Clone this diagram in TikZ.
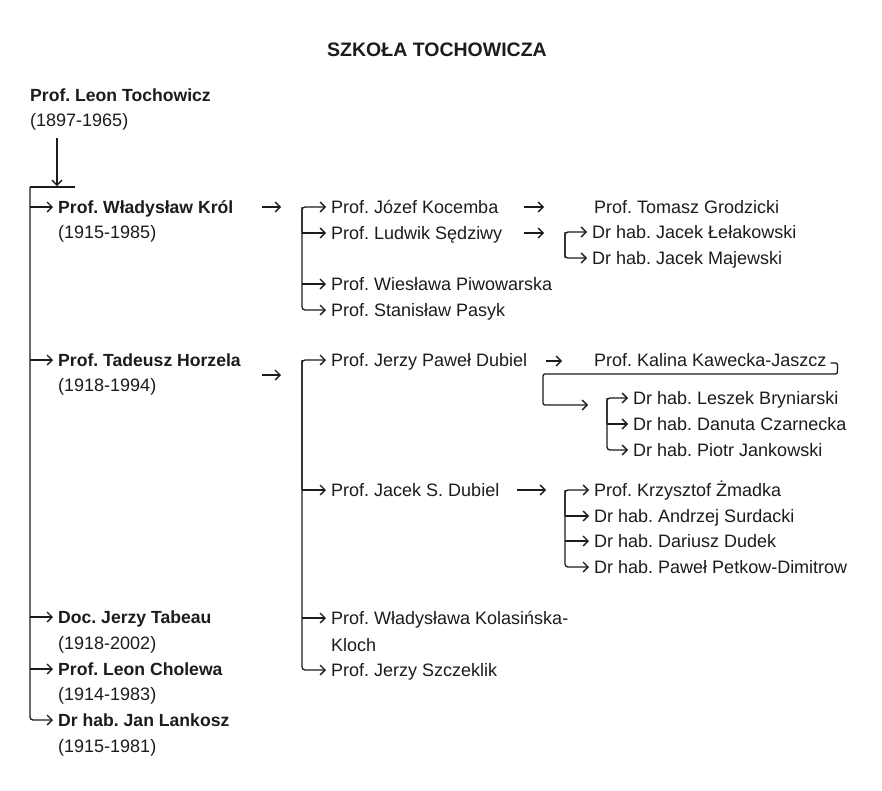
\documentclass[tikz,border=0pt]{standalone}
\usepackage{fontspec}
\setmainfont{Liberation Sans}
\usetikzlibrary{arrows.meta}
\definecolor{ink}{HTML}{1C1C1C}
\frenchspacing
\begin{document}
\begin{tikzpicture}[x=1pt,y=-1pt,
  txt/.style={anchor=west, inner sep=0pt, text height=12.5pt, text depth=0pt,
    font=\fontsize{18}{20}\selectfont, text=ink},
  bold/.style={txt, font=\fontsize{17.6}{20}\selectfont\bfseries},
  ln/.style={draw=ink, line width=1.3pt},
  tip/.style={-{Straight Barb[length=5pt,width=10pt]}},
  arr/.style={ln, tip, shorten >=5pt, rounded corners=3pt},
  free/.style={ln, tip}]
\fill[white] (0,0) rectangle (882,790);
\useasboundingbox (0,0) rectangle (882,790);

% title
\node[bold, anchor=center, font=\fontsize{19.5}{22}\selectfont\bfseries] (title) at (437,50) {SZKOŁA TOCHOWICZA};

% root
\node[bold] (toch) at (30,95) {Prof. Leon Tochowicz};
\node[txt] (tochy) at (30,120) {(1897-1965)};

% level 1
\node[bold] (krol) at (58,207) {Prof. Władysław Król};
\node[txt] (kroly) at (58,232) {(1915-1985)};
\node[bold] (horz) at (58,360) {Prof. Tadeusz Horzela};
\node[txt] (horzy) at (58,385) {(1918-1994)};
\node[bold] (tab) at (58,617) {Doc. Jerzy Tabeau};
\node[txt] (taby) at (58,643) {(1918-2002)};
\node[bold] (chol) at (58,669) {Prof. Leon Cholewa};
\node[txt] (choly) at (58,694) {(1914-1983)};
\node[bold] (lank) at (58,720) {Dr hab. Jan Lankosz};
\node[txt] (lanky) at (58,746) {(1915-1981)};

% level 2
\node[txt] (koc) at (331,207) {Prof. Józef Kocemba};
\node[txt] (sedz) at (331,233) {Prof. Ludwik Sędziwy};
\node[txt] (piw) at (331,284) {Prof. Wiesława Piwowarska};
\node[txt] (pas) at (331,310) {Prof. Stanisław Pasyk};
\node[txt] (jpd) at (331,360) {Prof. Jerzy Paweł Dubiel};
\node[txt] (jsd) at (331,490) {Prof. Jacek S. Dubiel};
\node[txt] (kol) at (331,618) {Prof. Władysława Kolasińska-};
\node[txt] (kloch) at (331,645) {Kloch};
\node[txt] (szcz) at (331,670) {Prof. Jerzy Szczeklik};

% level 3
\node[txt] (grod) at (594,207) {Prof. Tomasz Grodzicki};
\node[txt] (lel) at (592,232) {Dr hab. Jacek Łełakowski};
\node[txt] (maj) at (592,258) {Dr hab. Jacek Majewski};
\node[txt] (kal) at (594,360) {Prof. Kalina Kawecka-Jaszcz};
\node[txt] (bry) at (633,398) {Dr hab. Leszek Bryniarski};
\node[txt] (cza) at (633,424) {Dr hab. Danuta Czarnecka};
\node[txt] (jan) at (633,450) {Dr hab. Piotr Jankowski};
\node[txt] (zma) at (594,490) {Prof. Krzysztof Żmadka};
\node[txt] (sur) at (594,516) {Dr hab. Andrzej Surdacki};
\node[txt] (dud) at (594,541) {Dr hab. Dariusz Dudek};
\node[txt] (pet) at (594,567) {Dr hab. Paweł Petkow-Dimitrow};

% coordinates
\coordinate (trunk) at (30,187);
\coordinate (barR) at (75,187);
\coordinate (dtop) at (57,138);
\coordinate (dbot) at (57,186);
\coordinate (b1) at (302,0);
\coordinate (b2) at (565,0);
\coordinate (b3) at (607,0);
\coordinate (b4) at (565,0);

% root to trunk
\draw[free] (dtop) -- (dbot);
\draw[ln] (barR) -- (trunk);
\draw[arr] (trunk) |- (lank.west);
\foreach \n in {krol,horz,tab,chol}
  \draw[arr] (trunk |- \n.west) -- (\n.west);

% free arrows between columns
\coordinate (k1) at (262,207); \coordinate (k2) at (281,207);
\draw[free] (k1) -- (k2);
\coordinate (h1) at (262,375); \coordinate (h2) at (281,375);
\draw[free] (h1) -- (h2);
\coordinate (c1) at (524,207); \coordinate (c2) at (544,207);
\draw[free] (c1) -- (c2);
\coordinate (s1) at (524,233); \coordinate (s2) at (544,233);
\draw[free] (s1) -- (s2);
\coordinate (p1) at (546,361); \coordinate (p2) at (562,361);
\draw[free] (p1) -- (p2);
\coordinate (j1) at (517,490); \coordinate (j2) at (546,490);
\draw[free] (j1) -- (j2);

% Krol group
\draw[arr] (b1 |- sedz.west) |- (koc.west);
\draw[arr] (b1 |- koc.west) |- (pas.west);
\draw[arr] (b1 |- sedz.west) -- (sedz.west);
\draw[arr] (b1 |- piw.west) -- (piw.west);

% Horzela group
\draw[arr] (b1 |- jsd.west) |- (jpd.west);
\draw[arr] (b1 |- jpd.west) |- (szcz.west);
\draw[arr] (b1 |- jsd.west) -- (jsd.west);
\draw[arr] (b1 |- kol.west) -- (kol.west);

% Sedziwy group
\draw[arr] (b2 |- maj.west) |- (lel.west);
\draw[arr] (b2 |- lel.west) |- (maj.west);

% Kalina hook
\coordinate (hk) at ([xshift=11pt,yshift=-14pt]kal.east);
\coordinate (hl) at (543,405);
\coordinate (he) at (588,405);
\draw[free, rounded corners=2pt] ([xshift=4pt,yshift=-3pt]kal.east) -| (hk) -- (hk -| hl) -- (hl) -- (he);

% Kalina students
\draw[arr] (b3 |- cza.west) |- (bry.west);
\draw[arr] (b3 |- bry.west) |- (jan.west);
\draw[arr] (b3 |- cza.west) -- (cza.west);

% Jacek S. Dubiel students
\draw[arr] (b4 |- sur.west) |- (zma.west);
\draw[arr] (b4 |- zma.west) |- (pet.west);
\draw[arr] (b4 |- sur.west) -- (sur.west);
\draw[arr] (b4 |- dud.west) -- (dud.west);
\end{tikzpicture}
\end{document}
